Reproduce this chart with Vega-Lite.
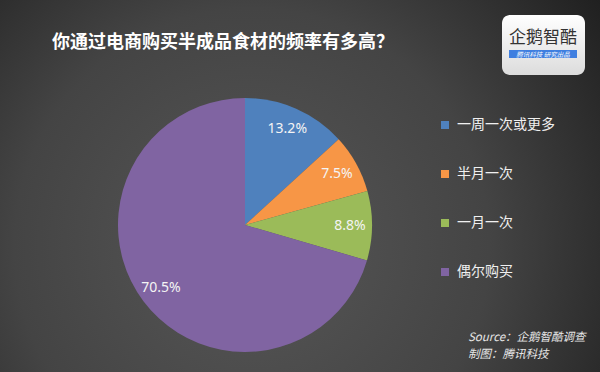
{
  "$schema": "https://vega.github.io/schema/vega-lite/v6.json",
  "width": 600,
  "height": 372,
  "autosize": {"type": "fit", "contains": "padding"},
  "padding": 0,
  "background": "#262626",
  "title": {
    "text": "你通过电商购买半成品食材的频率有多高？",
    "anchor": "start",
    "frame": "group",
    "orient": "top",
    "offset": -66,
    "dx": 52,
    "baseline": "alphabetic",
    "font": "Noto Sans CJK SC",
    "fontSize": 18,
    "fontWeight": "bold",
    "color": "#ffffff"
  },
  "config": {
    "view": {"stroke": null},
    "font": "Noto Sans CJK SC"
  },
  "layer": [
    {
      "data": {"values": [{"bg": 1}]},
      "mark": {
        "type": "rect",
        "color": {
          "gradient": "radial",
          "x1": 0.42, "y1": 0.6, "r1": 0,
          "x2": 0.42, "y2": 0.6, "r2": 0.72,
          "stops": [
            {"offset": 0, "color": "#575757"},
            {"offset": 0.55, "color": "#444444"},
            {"offset": 1, "color": "#1f1f1f"}
          ]
        }
      },
      "encoding": {
        "x": {"value": 0},
        "x2": {"value": "width"},
        "y": {"value": 0},
        "y2": {"value": "height"}
      }
    },
    {
      "data": {
        "values": [
          {"category": "一周一次或更多", "value": 13.2, "idx": 1, "label": "13.2%"},
          {"category": "半月一次", "value": 7.5, "idx": 2, "label": "7.5%"},
          {"category": "一月一次", "value": 8.8, "idx": 3, "label": "8.8%"},
          {"category": "偶尔购买", "value": 70.5, "idx": 4, "label": "70.5%"}
        ]
      },
      "layer": [
        {
          "mark": {"type": "arc", "x": 245, "y": 225, "outerRadius": 127},
          "encoding": {
            "theta": {"field": "value", "type": "quantitative", "stack": true},
            "order": {"field": "idx", "type": "quantitative"},
            "color": {
              "field": "category",
              "type": "nominal",
              "scale": {
                "domain": ["一周一次或更多", "半月一次", "一月一次", "偶尔购买"],
                "range": ["#4F81BD", "#F79646", "#9BBB59", "#8064A2"]
              },
              "legend": {
                "title": null,
                "orient": "none",
                "legendX": 438,
                "legendY": 118,
                "symbolType": "square",
                "symbolSize": 64,
                "symbolStrokeWidth": 0,
                "labelColor": "#f0f0f0",
                "labelFontSize": 14,
                "labelFont": "Noto Sans CJK SC",
                "labelOffset": 5,
                "rowPadding": 35,
                "padding": 0
              }
            }
          }
        },
        {
          "mark": {"type": "text", "x": 245, "y": 225, "radius": 105, "fontSize": 14, "color": "#f4f4f4", "font": "Noto Sans"},
          "encoding": {
            "theta": {"field": "value", "type": "quantitative", "stack": true},
            "order": {"field": "idx", "type": "quantitative"},
            "text": {"field": "label"}
          }
        }
      ]
    },
    {
      "data": {"values": [{"t": "Source：企鹅智酷调查", "row": 0}, {"t": "制图：腾讯科技", "row": 1}]},
      "mark": {"type": "text", "x": 468, "align": "left", "baseline": "middle", "fontSize": 11.5, "fontStyle": "italic", "color": "#e6e6e6", "font": "Noto Sans CJK SC"},
      "encoding": {
        "y": {"field": "row", "type": "quantitative", "scale": {"domain": [0, 1], "range": [338, 355], "zero": false, "nice": false}, "axis": null},
        "text": {"field": "t"}
      }
    },
    {
      "data": {"values": [{"logo": "企鹅智酷"}]},
      "layer": [
        {
          "mark": {"type": "rect", "x": 502, "x2": 585, "y": 15, "y2": 75, "cornerRadius": 8,
            "color": {"gradient": "linear", "x1": 0, "y1": 0, "x2": 0, "y2": 1,
              "stops": [{"offset": 0, "color": "#ffffff"}, {"offset": 1, "color": "#dcdcdc"}]}},
          "encoding": {}
        },
        {
          "mark": {"type": "text", "x": 543, "y": 38, "align": "center", "baseline": "middle", "fontSize": 17, "color": "#333333", "font": "Noto Sans CJK SC"},
          "encoding": {"text": {"field": "logo"}}
        },
        {
          "mark": {"type": "rect", "x": 509, "x2": 577, "y": 50, "y2": 58, "color": "#3f7fe0"},
          "encoding": {}
        },
        {
          "mark": {"type": "text", "x": 543, "y": 54.5, "align": "center", "baseline": "middle", "fontSize": 6.5, "fontStyle": "italic", "color": "#ffffff", "font": "Noto Sans CJK SC", "text": "腾讯科技  研究出品"},
          "encoding": {}
        }
      ]
    }
  ]
}
